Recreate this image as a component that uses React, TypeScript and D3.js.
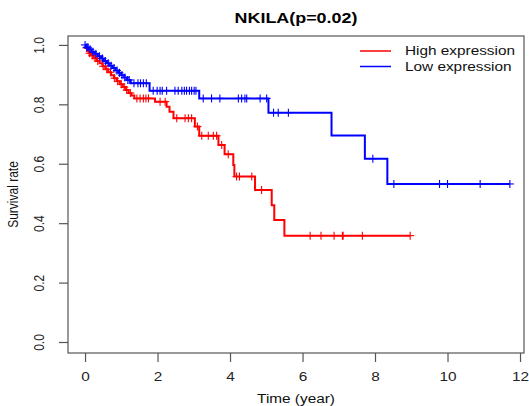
import React, { useEffect, useRef } from "react";
import * as d3 from "d3";

// step points (time in years, survival after the event)
const highTimes = [0.02, 0.06, 0.1, 0.16, 0.24, 0.32, 0.4, 0.48, 0.56, 0.64, 0.72, 0.8, 0.88, 0.96, 1.04, 1.12, 1.2, 1.28, 1.36, 1.93, 2.25, 2.33, 2.44, 3.03, 3.15, 3.68, 3.85, 4.09, 4.12, 4.69, 5.15, 5.22, 5.5];
const highSurv = [0.99, 0.98, 0.972, 0.964, 0.955, 0.946, 0.938, 0.928, 0.918, 0.908, 0.898, 0.888, 0.878, 0.868, 0.858, 0.848, 0.838, 0.83, 0.82, 0.809, 0.792, 0.775, 0.753, 0.725, 0.694, 0.663, 0.632, 0.596, 0.557, 0.512, 0.46, 0.411, 0.358];
const highCensor = [0.04, 0.12, 0.2, 0.28, 0.35, 0.5, 0.6, 0.7, 0.82, 0.9, 1.0, 1.08, 1.15, 1.25, 1.43, 1.52, 1.61, 1.68, 1.75, 2.07, 2.21, 2.53, 2.76, 2.85, 2.94, 3.1, 3.22, 3.4, 3.54, 3.63, 3.77, 3.95, 4.18, 4.26, 4.6, 4.87, 6.21, 6.51, 6.87, 7.1, 7.12, 7.65, 8.97];
const highEnd = 8.97;

const lowTimes = [0.03, 0.1, 0.18, 0.26, 0.35, 0.44, 0.52, 0.6, 0.68, 0.76, 0.84, 0.92, 1.0, 1.08, 1.16, 1.26, 1.78, 3.15, 5.06, 6.8, 7.72, 8.34];
const lowSurv = [0.992, 0.985, 0.977, 0.97, 0.962, 0.954, 0.946, 0.938, 0.93, 0.922, 0.914, 0.906, 0.898, 0.89, 0.882, 0.871, 0.846, 0.82, 0.772, 0.695, 0.617, 0.532];
const lowCensor = [0.0, 0.05, 0.08, 0.14, 0.22, 0.3, 0.4, 0.48, 0.56, 0.64, 0.72, 0.8, 0.88, 0.95, 1.02, 1.1, 1.18, 1.22, 1.35, 1.46, 1.53, 1.61, 1.69, 1.88, 1.99, 2.07, 2.13, 2.25, 2.48, 2.57, 2.67, 2.74, 2.8, 2.88, 2.94, 3.01, 3.06, 3.26, 3.49, 3.72, 4.23, 4.32, 4.41, 4.46, 4.83, 5.01, 5.2, 5.33, 5.61, 7.94, 8.52, 9.78, 10.0, 10.9, 11.72];
const lowEnd = 11.72;

const xTicks = [0, 2, 4, 6, 8, 10, 12];
const yTicks = [0, 0.2, 0.4, 0.6, 0.8, 1.0];
const groups = ["High expression", "Low expression"];
const colors = ["#ff0000", "#0000ff"];

const width = 529;
const height = 406;
const box = { left: 68, right: 524, top: 36, bottom: 353 };
const sx = 1.28; // horizontal stretch of the text

export default function App() {
  const ref = useRef<SVGSVGElement>(null);

  useEffect(() => {
    const svg = d3.select(ref.current);
    svg.selectAll("*").remove();

    const x = d3.scaleLinear().domain([-0.47, 12.11]).range([box.left, box.right]);
    const y = d3.scaleLinear().domain([-0.037, 1.03]).range([box.bottom, box.top]);

    const font = "'Liberation Sans', Arial, sans-serif";

    // x axis
    const gx = svg.append("g")
      .attr("transform", `translate(0, ${box.bottom})`)
      .call(d3.axisBottom(x).tickValues(xTicks).tickSize(9).tickSizeOuter(0).tickFormat(d3.format("d")));
    gx.select(".domain").remove();
    gx.selectAll("line").attr("stroke", "#555").attr("stroke-width", 1.2);
    gx.selectAll("text")
      .attr("y", 0).attr("dy", 0)
      .attr("transform", `translate(0, 28) scale(${sx},1)`)
      .attr("font-size", 12).attr("font-family", font).attr("fill", "#222");

    // y axis
    const gy = svg.append("g")
      .attr("transform", `translate(${box.left}, 0)`)
      .call(d3.axisLeft(y).tickValues(yTicks).tickSize(9).tickSizeOuter(0).tickFormat(d3.format(".1f")));
    gy.select(".domain").remove();
    gy.selectAll("line").attr("stroke", "#555").attr("stroke-width", 1.2);
    gy.selectAll("text")
      .attr("x", 0).attr("y", 0).attr("dy", "0.35em")
      .attr("text-anchor", "middle")
      .attr("transform", `translate(-29, 0) scale(${sx},1) rotate(-90)`)
      .attr("font-size", 12).attr("font-family", font).attr("fill", "#222");

    // plot box
    svg.append("rect")
      .attr("x", box.left).attr("y", box.top)
      .attr("width", box.right - box.left).attr("height", box.bottom - box.top)
      .attr("fill", "none").attr("stroke", "#555").attr("stroke-width", 1.2);

    // curves
    const series = [
      { times: highTimes, surv: highSurv, censor: highCensor, end: highEnd },
      { times: lowTimes, surv: lowSurv, censor: lowCensor, end: lowEnd },
    ];
    const line = d3.line<[number, number]>()
      .x(d => x(d[0]))
      .y(d => y(d[1]))
      .curve(d3.curveStepAfter);
    const bis = d3.bisector((d: number) => d).right;

    series.forEach((s, i) => {
      const pts: [number, number][] = [[0, 1]];
      s.times.forEach((t, j) => pts.push([t, s.surv[j]]));
      pts.push([s.end, s.surv[s.surv.length - 1]]);
      svg.append("path")
        .attr("d", line(pts))
        .attr("fill", "none")
        .attr("stroke", colors[i])
        .attr("stroke-width", 2);

      const survAt = (t: number) => {
        const k = bis(s.times, t);
        return k === 0 ? 1 : s.surv[k - 1];
      };
      const marks = svg.append("g").attr("stroke", colors[i]).attr("stroke-width", 1.1);
      s.censor.forEach(t => {
        const cx = x(t);
        const cy = y(survAt(t));
        marks.append("line").attr("x1", cx).attr("x2", cx).attr("y1", cy - 4).attr("y2", cy + 4);
        marks.append("line").attr("x1", cx - 4).attr("x2", cx + 4).attr("y1", cy).attr("y2", cy);
      });
    });

    // legend
    groups.forEach((g, i) => {
      const ly = 51 + i * 15.5;
      svg.append("line")
        .attr("x1", 360).attr("x2", 391).attr("y1", ly).attr("y2", ly)
        .attr("stroke", colors[i]).attr("stroke-width", 1.5);
      svg.append("text")
        .attr("transform", `translate(405, ${ly + 4.3}) scale(${sx},1)`)
        .attr("font-size", 12).attr("font-family", font).attr("fill", "#111")
        .text(g);
    });

    // title and axis labels
    svg.append("text")
      .attr("transform", `translate(${(box.left + box.right) / 2}, 23) scale(${sx},1)`)
      .attr("text-anchor", "middle")
      .attr("font-size", 14).attr("font-weight", "bold").attr("font-family", font)
      .text("NKILA(p=0.02)");

    svg.append("text")
      .attr("transform", `translate(${(box.left + box.right) / 2}, 403) scale(${sx},1)`)
      .attr("text-anchor", "middle")
      .attr("font-size", 12).attr("font-family", font).attr("fill", "#111")
      .text("Time (year)");

    svg.append("text")
      .attr("transform", `translate(18, ${(box.top + box.bottom) / 2}) scale(${sx},1) rotate(-90)`)
      .attr("text-anchor", "middle")
      .attr("font-size", 12).attr("font-family", font).attr("fill", "#111")
      .text("Survival rate");
  }, []);

  return (
    <svg
      ref={ref}
      width={width}
      height={height}
      style={{ position: "absolute", left: 0, top: 0, background: "#fff" }}
    />
  );
}
